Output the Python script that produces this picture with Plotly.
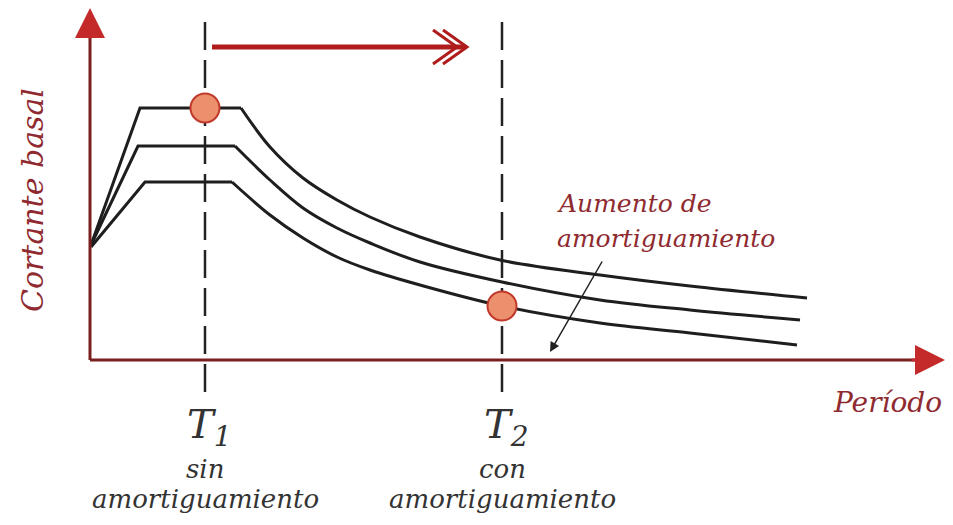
import plotly.graph_objects as go

# Espectros de cortante basal (unidades arbitrarias: periodo, cortante)
# cada curva: tramo de subida + meseta, luego tramo descendente
top_rise_T = [0.01, 0.50, 1.51]
top_rise_V = [1.15, 2.52, 2.52]
top_decay_T = [1.51, 1.80, 2.13, 2.47, 2.80, 3.30, 4.10, 5.10, 6.00, 7.17]
top_decay_V = [2.52, 2.13, 1.82, 1.60, 1.43, 1.23, 1.00, 0.85, 0.74, 0.62]

mid_rise_T = [0.01, 0.48, 1.45]
mid_rise_V = [1.15, 2.14, 2.14]
mid_decay_T = [1.45, 1.80, 2.13, 2.47, 2.80, 3.30, 4.12, 5.10, 6.00, 7.10]
mid_decay_V = [2.14, 1.80, 1.52, 1.32, 1.17, 0.98, 0.78, 0.60, 0.50, 0.40]

low_rise_T = [0.01, 0.55, 1.42]
low_rise_V = [1.13, 1.78, 1.78]
low_decay_T = [1.42, 1.80, 2.13, 2.47, 2.80, 3.30, 4.12, 5.10, 6.00, 7.07]
low_decay_V = [1.78, 1.45, 1.22, 1.03, 0.90, 0.75, 0.54, 0.37, 0.27, 0.15]

# periodos marcados
T1 = 1.15
T2 = 4.12
point_T = [T1, T2]
point_V = [2.52, 0.54]

axis_col = '#7a1f1f'
head_col = '#c42a2a'
text_red = '#8f2b30'
serif = 'DejaVu Serif'

fig = go.Figure()

for rT, rV, dT, dV in [(top_rise_T, top_rise_V, top_decay_T, top_decay_V),
                       (mid_rise_T, mid_rise_V, mid_decay_T, mid_decay_V),
                       (low_rise_T, low_rise_V, low_decay_T, low_decay_V)]:
    fig.add_trace(go.Scatter(x=rT, y=rV, mode='lines',
                             line=dict(color='#1e1e1e', width=3),
                             showlegend=False, hoverinfo='skip'))
    fig.add_trace(go.Scatter(x=dT, y=dV, mode='lines',
                             line=dict(color='#1e1e1e', width=3, shape='spline'),
                             showlegend=False, hoverinfo='skip'))

# lineas verticales discontinuas
for t in point_T:
    fig.add_shape(type='line', x0=t, x1=t, y0=-0.32, y1=3.47,
                  line=dict(color='#222', width=2.5, dash='28px,10px'), layer='below')

fig.add_trace(go.Scatter(x=point_T, y=point_V, mode='markers',
                         marker=dict(size=29, color='#ec8f6c',
                                     line=dict(color='#c0392b', width=2)),
                         showlegend=False, hoverinfo='skip'))

# ejes con flecha
fig.add_shape(type='line', x0=0, x1=0, y0=0, y1=3.3, line=dict(color=axis_col, width=3))
fig.add_shape(type='line', x0=0, x1=8.35, y0=0, y1=0, line=dict(color=axis_col, width=3))
fig.add_annotation(x=0, y=3.52, ax=0, ay=3.2, xref='x', yref='y', axref='x', ayref='y',
                   showarrow=True, arrowhead=2, arrowsize=2.0, arrowwidth=3,
                   arrowcolor=head_col, text='')
fig.add_annotation(x=8.55, y=0, ax=8.2, ay=0, xref='x', yref='y', axref='x', ayref='y',
                   showarrow=True, arrowhead=2, arrowsize=2.0, arrowwidth=3,
                   arrowcolor=head_col, text='')

# flecha T1 -> T2 con doble punta
arr_y = 3.13
fig.add_shape(type='line', x0=T1 + 0.07, x1=T2 - 0.36, y0=arr_y, y1=arr_y,
              line=dict(color='#b01c1c', width=5))
for back, tip in [(T2 - 0.69, T2 - 0.45), (T2 - 0.59, T2 - 0.35)]:
    fig.add_shape(type='path',
                  path=f'M {back},{arr_y + 0.17} L {tip},{arr_y} L {back},{arr_y - 0.17}',
                  line=dict(color='#b01c1c', width=3))

# textos
fig.add_annotation(x=-0.58, y=1.60, text='Cortante basal', textangle=-90, showarrow=False,
                   font=dict(family=serif, size=30, color=text_red, style='italic'))
fig.add_annotation(x=7.97, y=-0.42, text='Período', showarrow=False,
                   font=dict(family=serif, size=28, color=text_red, style='italic'))

for t, sub, word in [(T1, '1', 'sin'), (T2, '2', 'con')]:
    fig.add_annotation(x=t + 0.04, y=-0.67, text=f'T<sub>{sub}</sub>', showarrow=False,
                       font=dict(family=serif, size=40, color='#333', style='italic'))
    fig.add_annotation(x=t, y=-1.09, text=word, showarrow=False,
                       font=dict(family=serif, size=26, color='#333', style='italic'))
    fig.add_annotation(x=t, y=-1.39, text='amortiguamiento', showarrow=False,
                       font=dict(family=serif, size=26, color='#333', style='italic'))

fig.add_annotation(x=4.65, y=1.57, xanchor='left', text='Aumento de', showarrow=False,
                   font=dict(family=serif, size=25, color=text_red, style='italic'))
fig.add_annotation(x=4.65, y=1.22, xanchor='left', text='amortiguamiento', showarrow=False,
                   font=dict(family=serif, size=25, color=text_red, style='italic'))
fig.add_annotation(x=4.60, y=0.08, ax=5.13, ay=1.0, xref='x', yref='y', axref='x', ayref='y',
                   showarrow=True, arrowhead=2, arrowsize=1.3, arrowwidth=1.5,
                   arrowcolor='#222', text='')

# la pagina tiene 8px de margen: la figura ocupa 937x509 dentro de la ventana
fig.update_layout(width=937, height=509, margin=dict(l=0, r=0, t=0, b=0),
                  plot_bgcolor='white', paper_bgcolor='white', showlegend=False)
fig.update_xaxes(range=[-0.82, 8.55], visible=False)
fig.update_yaxes(range=[-1.57, 3.52], visible=False)

fig.write_html("out.html")
